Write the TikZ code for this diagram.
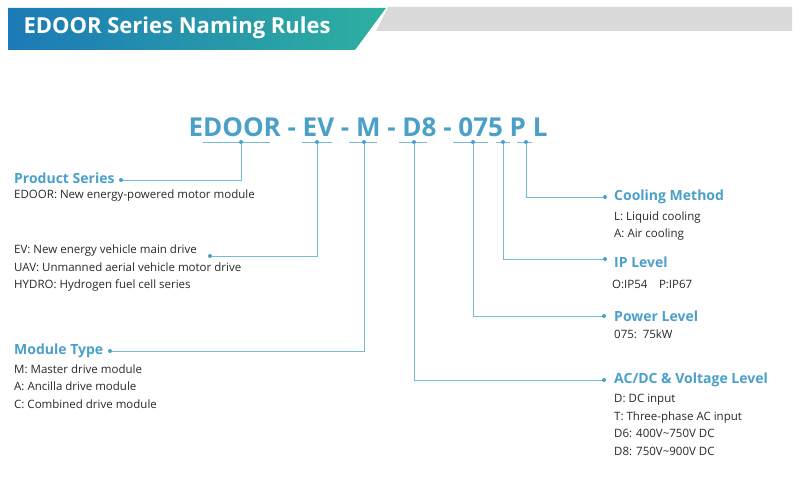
\documentclass[tikz,border=0pt]{standalone}
\usepackage{fontspec}
\setmainfont{Open Sans}
\usetikzlibrary{positioning, calc}
\definecolor{edblue}{RGB}{74, 160, 200}
\definecolor{hdleft}{RGB}{28, 122, 182}
\definecolor{hdright}{RGB}{46, 176, 160}
\definecolor{hdgray}{RGB}{218, 218, 218}
\definecolor{txtgray}{RGB}{40, 40, 40}
\definecolor{linecol}{RGB}{120, 185, 215}

\begin{document}
\begin{tikzpicture}[x=1pt, y=-1pt,
      code/.style={font=\fontsize{26}{30}\selectfont\bfseries, text=edblue, inner sep=0pt},
      head/.style={font=\fontsize{14}{16}\selectfont\bfseries, text=edblue, anchor=west, inner sep=0pt},
      info/.style={font=\fontsize{11.5}{17.5}\selectfont, text=txtgray, align=left, inner sep=0pt},
      uline/.style={linecol, line width=0.8pt},
      link/.style={linecol, line width=0.8pt},
      dot/.style={circle, fill=edblue, inner sep=0pt, minimum size=4pt}
    ]
      \useasboundingbox (0,0) rectangle (800,486);
      % header band
      \fill[hdgray] (388,7) -- (792,7) -- (792,31) -- (376,31) -- cycle;
      \shade[left color=hdleft, right color=hdright] (8,8) -- (386,8) -- (355,50) -- (8,50) -- cycle;
      \node[font=\fontsize{22}{26}\selectfont\bfseries, text=white, anchor=west] (title) at (20,28) {EDOOR Series Naming Rules};

      % model code
      \node[code] (code) at (368,127) {EDOOR\ -\ EV\ -\ M\ -\ D8\ -\ 075\ P\ L};

      % underlines with dots
      \foreach \a/\b/\m/\n in {203/270/241/dE, 302/332/317/dV, 349/377/364/dM, 399/427/414/dD, 453/488/473/dN, 496/510/503/dP, 517/532/526/dL}{
        \draw[uline] (\a,142) -- (\b,142);
        \node[dot] (\n) at (\m,142) {};
      }

      % left side descriptions
      \node[head] (hprod) at (14,178) {Product Series};
      \node[info, below=6pt of hprod.south west, anchor=north west] (iprod) {EDOOR: New energy-powered motor module};
      \node[info, anchor=north west] (iev) at (14,245) {EV: New energy vehicle main drive\\UAV: Unmanned aerial vehicle motor drive\\HYDRO: Hydrogen fuel cell series};
      \node[head] (hmod) at (14,351) {Module Type};
      \node[info, below=6pt of hmod.south west, anchor=north west] (imod) {M: Master drive module\\A: Ancilla drive module\\C: Combined drive module};

      % right side descriptions
      \node[head] (hcool) at (614,197) {Cooling Method};
      \node[info, below=7pt of hcool.south west, anchor=north west] (icool) {L: Liquid cooling\\A: Air cooling};
      \node[head] (hip) at (614,262) {IP Level};
      \node[info, below=12pt of hip.south west, anchor=north west, xshift=-2pt] (iip) {O:IP54\quad P:IP67};
      \node[head] (hpow) at (614,316) {Power Level};
      \node[info, below=8pt of hpow.south west, anchor=north west] (ipow) {075:\enspace 75kW};
      \node[head] (hac) at (614,380) {AC/DC \& Voltage Level};
      \node[info, below=7pt of hac.south west, anchor=north west] (iac) {D: DC input\\T: Three-phase AC input\\D6: 400V\textasciitilde750V DC\\D8: 750V\textasciitilde900V DC};

      % end dots
      \node[dot] (eE) at (121,180) {};
      \node[dot] (eV) at (210,256) {};
      \node[dot] (eM) at (110,351) {};
      \node[dot] (eL) at (605,197) {};
      \node[dot] (eP) at (605,259) {};
      \node[dot] (eN) at (604,316) {};
      \node[dot] (eD) at (604,380) {};

      % connectors
      \draw[link] (dE) |- (eE);
      \draw[link] (dV) |- (eV);
      \draw[link] (dM) |- (eM);
      \draw[link] (dD) |- (eD);
      \draw[link] (dN) |- (eN);
      \draw[link] (dP) |- (eP);
      \draw[link] (dL) |- (eL);
    \end{tikzpicture}
\end{document}
